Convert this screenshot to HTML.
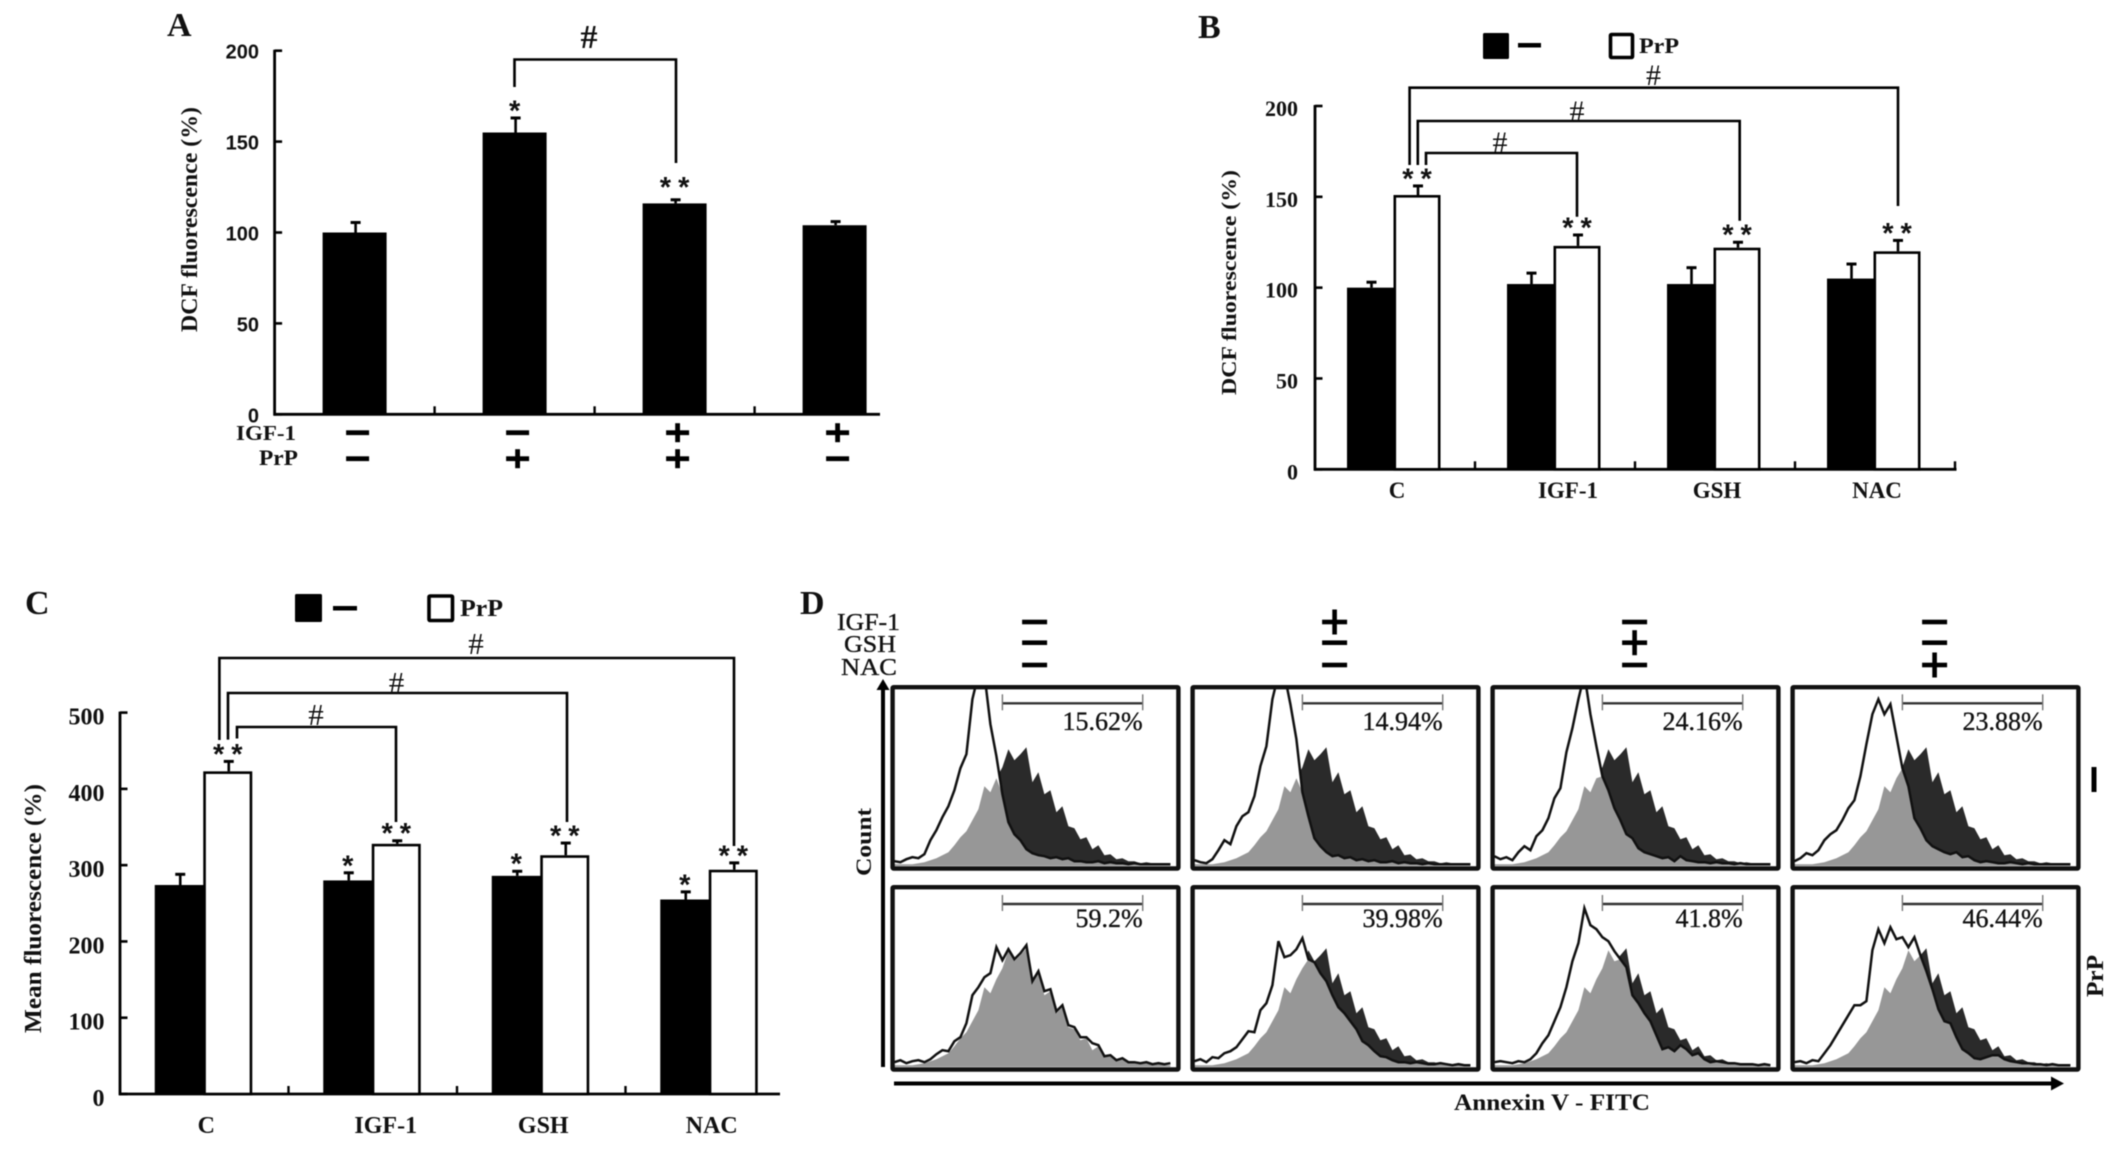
<!DOCTYPE html>
<html lang="en">
<head>
<meta charset="utf-8">
<title>DCF fluorescence, mean fluorescence and Annexin V panels</title>
<style>
html,body{margin:0;padding:0;background:#fff;}
body{width:2126px;height:1151px;overflow:hidden;}
svg#figure{display:block;filter:blur(0.6px);}
.serif{font-family:"Liberation Serif",serif;fill:#111;}
.bold{font-weight:bold;}
.heavy{stroke:#111;stroke-width:0.35px;}
.sans{font-family:"Liberation Sans",sans-serif;fill:#111;font-weight:bold;}
.line{fill:none;stroke:#000;stroke-width:2.6;}
</style>
</head>
<body>
<svg id="figure" xmlns="http://www.w3.org/2000/svg" width="2126" height="1151" viewBox="0 0 2126 1151">
  <rect x="0" y="0" width="2126" height="1151" fill="#fff"/>

  <g id="panel-a">
    <text class="serif bold" x="167" y="36" font-size="34">A</text>
    <text class="serif bold" transform="translate(197,219.5) rotate(-90)" text-anchor="middle" font-size="23" textLength="225" lengthAdjust="spacingAndGlyphs">DCF fluorescence (%)</text>
    <path class="line" d="M514.5 87V59.5H676V163"/>
    <text class="serif bold" x="589" y="48" text-anchor="middle" font-size="34">#</text>
    <text class="serif bold" x="296" y="440" text-anchor="end" font-size="21" textLength="60" lengthAdjust="spacingAndGlyphs">IGF-1</text>
    <text class="serif bold" x="298" y="465" text-anchor="end" font-size="22" textLength="39" lengthAdjust="spacingAndGlyphs">PrP</text>
  </g>

  <g id="panel-b">
    <text class="serif bold" x="1198" y="38" font-size="34">B</text>
    <rect x="1483" y="33" width="26" height="26" rx="1.5" fill="#000"/>
    <rect x="1518" y="43" width="23" height="4.5" fill="#000"/>
    <rect x="1610.5" y="34.5" width="22" height="23" rx="1" fill="#fff" stroke="#000" stroke-width="3.6"/>
    <text class="serif bold" x="1639" y="53" font-size="22" textLength="40" lengthAdjust="spacingAndGlyphs">PrP</text>
    <text class="serif bold" transform="translate(1236,282.5) rotate(-90)" text-anchor="middle" font-size="21" textLength="225" lengthAdjust="spacingAndGlyphs">DCF fluorescence (%)</text>
    <path class="line" d="M1409.6 165V87.7H1898V206"/>
    <path class="line" d="M1417.8 165V121H1739.7V220.7"/>
    <path class="line" d="M1426 165V153H1577V216.7"/>
    <text class="serif" x="1653.5" y="85" text-anchor="middle" font-size="30">#</text>
    <text class="serif" x="1577" y="121" text-anchor="middle" font-size="30">#</text>
    <text class="serif" x="1500" y="152" text-anchor="middle" font-size="30">#</text>
  </g>

  <g id="panel-c">
    <text class="serif bold" x="25" y="614" font-size="34">C</text>
    <rect x="295" y="594" width="27" height="28" rx="1.5" fill="#000"/>
    <rect x="333" y="606" width="24" height="4.5" fill="#000"/>
    <rect x="429" y="596" width="23.5" height="24.5" rx="1" fill="#fff" stroke="#000" stroke-width="3.6"/>
    <text class="serif bold" x="460" y="616" font-size="24" textLength="43" lengthAdjust="spacingAndGlyphs">PrP</text>
    <text class="serif bold" transform="translate(41,908.5) rotate(-90)" text-anchor="middle" font-size="24" textLength="249" lengthAdjust="spacingAndGlyphs">Mean fluorescence (%)</text>
    <path class="line" d="M219.4 740V658H734V846"/>
    <path class="line" d="M228 739.6V693H567V822"/>
    <path class="line" d="M237 738.5V727H396V822"/>
    <text class="serif" x="476" y="654" text-anchor="middle" font-size="31">#</text>
    <text class="serif" x="396.5" y="693" text-anchor="middle" font-size="31">#</text>
    <text class="serif" x="316" y="725" text-anchor="middle" font-size="31">#</text>
  </g>

  <g id="panel-d">
    <text class="serif bold" x="800" y="614" font-size="34">D</text>
    <text class="serif heavy" x="900" y="630" text-anchor="end" font-size="24" textLength="63" lengthAdjust="spacingAndGlyphs">IGF-1</text>
    <text class="serif heavy" x="896" y="652" text-anchor="end" font-size="24" textLength="52" lengthAdjust="spacingAndGlyphs">GSH</text>
    <text class="serif heavy" x="897" y="675" text-anchor="end" font-size="24" textLength="56" lengthAdjust="spacingAndGlyphs">NAC</text>
    <text class="serif bold" transform="translate(871,842) rotate(-90)" text-anchor="middle" font-size="22" textLength="68" lengthAdjust="spacingAndGlyphs">Count</text>
    <text class="serif bold" x="1552" y="1110" text-anchor="middle" font-size="23" textLength="196" lengthAdjust="spacingAndGlyphs">Annexin V - FITC</text>
    <path d="M883 1067V688" fill="none" stroke="#000" stroke-width="4"/>
    <path d="M876.5 690L883 679L889.5 690Z" fill="#000"/>
    <path d="M894 1083.5H2052" fill="none" stroke="#000" stroke-width="4"/>
    <path d="M2051 1076.5L2064 1083.5L2051 1090.5Z" fill="#000"/>
    <rect x="2091.5" y="767" width="5" height="25" fill="#000"/>
    <text class="serif bold" transform="translate(2103,976) rotate(-90)" text-anchor="middle" font-size="24" textLength="42" lengthAdjust="spacingAndGlyphs">PrP</text>
  </g>
</svg>

<script>
// ---------- Panel A data ----------
const aCategories = ['control', 'PrP', 'IGF-1 + PrP', 'IGF-1'];
const aValues = [100, 155, 116, 104];
const aErrors = [5.5, 8, 2, 2];
const aStars = ['', '*', '**', ''];
const aTicks = [0, 50, 100, 150, 200];
const aIgfSigns = ['-', '-', '+', '+'];
const aPrpSigns = ['-', '+', '+', '-'];

// ---------- Panel B data ----------
const bCategories = ['C', 'IGF-1', 'GSH', 'NAC'];
const bControl = [100, 102, 102, 105];
const bControlErrors = [3, 6, 9, 8];
const bControlStars = ['', '', '', ''];
const bPrP = [151, 123, 122, 120];
const bPrPErrors = [5, 6, 3, 6];
const bPrPStars = ['**', '**', '**', '**'];
const bTicks = [0, 50, 100, 150, 200];

// ---------- Panel C data ----------
const cCategories = ['C', 'IGF-1', 'GSH', 'NAC'];
const cControl = [274, 280, 286, 255];
const cControlErrors = [14, 10, 6, 10];
const cControlStars = ['', '*', '*', '*'];
const cPrP = [423, 328, 313, 294];
const cPrPErrors = [13, 4, 16, 9];
const cPrPStars = ['**', '**', '**', '**'];
const cTicks = [0, 100, 200, 300, 400, 500];

// ---------- Panel D data: histogram counts per bin ----------
const dControlHistogram = [0,0,0,0,1,2,4,6,9,12,19,27,33,44,55,78,72,86,97,115,104,110,117,82,92,70,74,52,58,38,36,25,27,15,19,9,10,5,6,3,3,1,2,1,1,0,0];
const dTreatedRow1Col1 = [3,2,5,7,6,10,24,34,47,58,74,96,110,165,190,190,140,108,70,42,30,24,15,11,9,8,6,7,5,6,3,3,2,2,3,1,2,1,1,0,1,0,0,0,0,0,0];
const dTreatedRow1Col2 = [4,2,1,5,14,24,20,38,48,52,68,98,118,165,190,190,160,125,72,48,26,18,12,8,9,6,7,4,5,3,4,2,2,3,1,2,1,1,0,1,0,0,0,0,0,0,0];
const dTreatedRow1Col3 = [8,5,7,4,12,18,14,28,34,46,66,76,112,136,165,190,150,118,88,74,56,44,30,26,16,12,10,8,6,7,3,8,4,3,2,2,1,2,1,1,0,1,0,0,0,0,0];
const dTreatedRow1Col4 = [3,6,11,9,14,24,30,34,44,56,64,88,120,150,165,150,160,128,96,78,46,36,24,18,15,12,10,12,7,8,4,2,3,2,1,1,2,1,0,1,0,0,0,0,0,0,0];
const dTreatedRow2Col1 = [3,5,2,4,5,3,6,11,15,14,24,28,42,70,78,88,92,118,105,116,106,112,120,84,94,74,76,54,60,40,38,28,28,22,20,9,10,5,7,3,3,2,3,1,2,1,2];
const dTreatedRow2Col2 = [4,6,3,8,7,12,14,18,26,34,33,55,62,80,124,108,110,116,127,106,103,92,84,70,58,52,44,36,24,20,14,9,8,5,3,3,2,3,2,1,1,2,1,0,1,0,0];
const dTreatedRow2Col3 = [3,4,3,2,4,3,6,12,22,30,44,58,78,104,122,157,140,136,128,124,114,106,98,70,62,52,44,30,16,18,14,20,16,10,12,6,3,4,3,2,2,1,1,1,0,1,0];
const dTreatedRow2Col4 = [3,4,2,5,4,12,20,30,40,50,60,60,64,115,136,122,138,126,128,118,128,110,94,76,56,44,42,28,16,12,7,6,8,10,10,6,4,3,2,2,1,1,0,1,0,0,0];
const dRow1Percents = ['15.62%', '14.94%', '24.16%', '23.88%'];
const dRow2Percents = ['59.2%', '39.98%', '41.8%', '46.44%'];
const dIgfSigns = ['-', '+', '-', '-'];
const dGshSigns = ['-', '-', '+', '-'];
const dNacSigns = ['-', '-', '-', '+'];

const SVG_NS = 'http://www.w3.org/2000/svg';

function svgEl(tag, attrs, parent) {
  const el = document.createElementNS(SVG_NS, tag);
  for (const key in attrs) el.setAttribute(key, attrs[key]);
  parent.appendChild(el);
  return el;
}

function drawSign(parent, cx, cy, sign, width, thick, plusHeight) {
  const bar = svgEl('rect', {x: cx - width / 2, y: cy - thick / 2, width: width, height: thick, fill: '#000'}, parent);
  
  
  if (sign === '+') {
    const stem = svgEl('rect', {x: cx - thick / 2, y: cy - plusHeight / 2, width: thick, height: plusHeight, fill: '#000'}, parent);
    
    
  }
}

function drawAxes(chart) {
  const g = chart.group;
  const yScale = chart.yScale;
  const yAxis = svgEl('line', {x1: chart.left, x2: chart.left, y1: yScale(chart.ticks[chart.ticks.length - 1]) - 1, y2: chart.base + 1.3, stroke: '#000', 'stroke-width': 2.8}, g);
  
  
  const xAxis = svgEl('line', {x1: chart.left - 1, x2: chart.right, y1: chart.base, y2: chart.base, stroke: '#000', 'stroke-width': 2.8}, g);
  
  
  chart.ticks.forEach(function (value) {
    const y = yScale(value);
    const tick = svgEl('line', {x1: chart.left, x2: chart.left + 7.5, y1: y, y2: y, stroke: '#000', 'stroke-width': 2.6}, g);
    
    
    const label = svgEl('text', {x: chart.labelRight, y: y + chart.labelDrop, 'text-anchor': 'end', 'font-size': chart.tickFont, 'class': chart.tickClass}, g);
    label.textContent = value;
    
    
  });
  for (let i = 1; i <= chart.categories.length; i++) {
    const x = chart.left + chart.band * i;
    if (x > chart.right + 1) continue;
    const tick = svgEl('line', {x1: x, x2: x, y1: chart.base, y2: chart.base - 8, stroke: '#000', 'stroke-width': 2.4}, g);
    
    
  }
}

function drawStar(chart, cx, errorTop, stars, size) {
  if (!stars) return;
  const isDouble = stars.length > 1;
  const gap = isDouble ? chart.starGap : 10;
  const star = svgEl('text', {x: cx + (isDouble ? 3.5 : 0), y: errorTop - gap + size * 0.43, 'text-anchor': 'middle', 'font-size': size, 'class': 'sans', 'letter-spacing': isDouble ? 7 : 0}, chart.group);
  star.textContent = stars;
  
  
}

function drawSeries(chart, values, errors, stars, offset, filled, seriesName) {
  const g = chart.group;
  const yScale = chart.yScale;
  const w = chart.barWidth;
  values.forEach(function (value, i) {
    const center = chart.left + chart.band * (i + 0.5) + offset;
    const y = yScale(value);
    const errorTop = yScale(value + errors[i]);
    const inset = filled ? 0 : 1.3;
    const bar = svgEl('rect', {
      x: center - w / 2 + inset,
      y: y + inset,
      width: w - inset * 2,
      height: chart.base - y - inset,
      fill: filled ? '#000' : '#fff',
      stroke: filled ? 'none' : '#000',
      'stroke-width': filled ? 0 : 2.6
    }, g);
    
    
    const stem = svgEl('line', {x1: center + 1, x2: center + 1, y1: y, y2: errorTop, stroke: '#000', 'stroke-width': 2.6}, g);
    
    
    const cap = svgEl('line', {x1: center - 4, x2: center + 6, y1: errorTop, y2: errorTop, stroke: '#000', 'stroke-width': 3}, g);
    
    
    drawStar(chart, center, errorTop, stars[i], 29);
  });
}

function drawCategoryLabels(chart, baseline) {
  chart.categories.forEach(function (name, i) {
    const nudge = name === 'IGF-1' ? 13 : 2;
    const label = svgEl('text', {x: chart.left + chart.band * (i + 0.5) + nudge, y: baseline, 'text-anchor': 'middle', 'font-size': chart.catFont, 'class': 'serif bold'}, chart.group);
    label.textContent = name;
    
    
  });
}

function makeChart(groupId, options, maxValue) {
  const chart = Object.assign({group: document.getElementById(groupId)}, options);
  const pxPerUnit = (options.base - options.top) / maxValue;
  chart.yScale = function (v) { return options.base - v * pxPerUnit; };
  return chart;
}

// Panel A
const chartA = makeChart('panel-a', {
  left: 274.6, right: 880, top: 50.7, base: 414.3, band: 160, barWidth: 64, starGap: 15,
  categories: aCategories, ticks: aTicks, labelRight: 259, labelDrop: 8,
  tickFont: 20, tickClass: 'sans', catFont: 22
}, aTicks[aTicks.length - 1]);
drawAxes(chartA);
drawSeries(chartA, aValues, aErrors, aStars, 0, true, 'dcf');
aCategories.forEach(function (_, i) {
  const cx = chartA.left + chartA.band * (i + 0.5) + 3;
  drawSign(chartA.group, cx, 432.7, aIgfSigns[i], 23, 4.8, 19);
  drawSign(chartA.group, cx, 458.7, aPrpSigns[i], 23, 4.8, 19);
});

// Panel B
const chartB = makeChart('panel-b', {
  left: 1315, right: 1956.5, top: 106, base: 469.3, band: 160, barWidth: 47, starGap: 10,
  categories: bCategories, ticks: bTicks, labelRight: 1298, labelDrop: 10,
  tickFont: 22, tickClass: 'serif bold', catFont: 23
}, bTicks[bTicks.length - 1]);
drawAxes(chartB);
drawSeries(chartB, bControl, bControlErrors, bControlStars, -24.5, true, 'control');
drawSeries(chartB, bPrP, bPrPErrors, bPrPStars, 22, false, 'prp');
drawCategoryLabels(chartB, 498);

// Panel C
const chartC = makeChart('panel-c', {
  left: 120, right: 780, top: 712.6, base: 1094, band: 168.5, barWidth: 49, starGap: 10,
  categories: cCategories, ticks: cTicks, labelRight: 104.5, labelDrop: 12,
  tickFont: 24, tickClass: 'serif bold', catFont: 24
}, cTicks[cTicks.length - 1]);
drawAxes(chartC);
drawSeries(chartC, cControl, cControlErrors, cControlStars, -25, true, 'control');
drawSeries(chartC, cPrP, cPrPErrors, cPrPStars, 23.5, false, 'prp');
drawCategoryLabels(chartC, 1133);

// Panel D
const panelD = document.getElementById('panel-d');
const dHistRows = [
  [dTreatedRow1Col1, dTreatedRow1Col2, dTreatedRow1Col3, dTreatedRow1Col4],
  [dTreatedRow2Col1, dTreatedRow2Col2, dTreatedRow2Col3, dTreatedRow2Col4]
];
const dPercentRows = [dRow1Percents, dRow2Percents];
const D_ROW_TOPS = [685, 885];
const D_ROW_HEIGHTS = [185.7, 186.7];
const D_GATE_Y = [703.3, 904];
const D_TEXT_Y = [730, 927];
const D_COL_LEFT = 890.4;
const D_COL_STEP = 300;
const D_BOX_W = 290.2;
const D_BIN_PX = 6;

function binX(i) { return i * D_BIN_PX; }

function areaPoints(values, height) {
  const pts = ['0,' + height];
  values.forEach(function (v, i) { pts.push(binX(i) + ',' + (height - 1.5 - v)); });
  pts.push(binX(values.length - 1) + ',' + height);
  return pts.join(' ');
}

function linePoints(values, height) {
  return values.map(function (v, i) { return binX(i) + ',' + (height - 1.5 - v); }).join(' ');
}

dHistRows.forEach(function (row, r) {
  row.forEach(function (treated, c) {
    const bx = D_COL_LEFT + D_COL_STEP * c;
    const by = D_ROW_TOPS[r];
    const bh = D_ROW_HEIGHTS[r];
    const innerH = bh - 5;
    const plot = svgEl('svg', {x: bx + 4, y: by + 4, width: D_BOX_W - 8, height: innerH - 4, viewBox: '0 0 ' + (D_BOX_W - 8) + ' ' + (innerH - 4)}, panelD);
    
    
    const h = innerH - 4;
    const dark = svgEl('polygon', {points: areaPoints(dControlHistogram, h), fill: '#2a2a2a'}, plot);
    
    
    const whiteFill = svgEl('polygon', {points: areaPoints(treated, h), fill: '#fff'}, plot);
    
    
    const overlapValues = treated.map(function (v, i) { return Math.min(v, dControlHistogram[i]); });
    const overlap = svgEl('polygon', {points: areaPoints(overlapValues, h), fill: '#979797'}, plot);
    
    
    const outline = svgEl('polyline', {points: linePoints(treated, h), fill: 'none', stroke: '#111', 'stroke-width': 2.5}, plot);
    
    

    const box = svgEl('rect', {x: bx + 2.2, y: by + 2.2, width: D_BOX_W - 4.4, height: bh - 4.4, rx: 1, fill: 'none', stroke: '#111', 'stroke-width': 4.4}, panelD);
    
    

    const gateY = D_GATE_Y[r];
    const gate = svgEl('line', {x1: bx + 112, x2: bx + 252.3, y1: gateY, y2: gateY, stroke: '#333', 'stroke-width': 2.4}, panelD);
    
    
    [112, 252.3].forEach(function (dx) {
      const end = svgEl('line', {x1: bx + dx, x2: bx + dx, y1: gateY - 9, y2: gateY + 7, stroke: '#777', 'stroke-width': 1.4}, panelD);
      
      
    });
    const pct = svgEl('text', {x: bx + 252.3, y: D_TEXT_Y[r], 'text-anchor': 'end', 'font-size': 26, 'class': 'serif heavy'}, panelD);
    pct.textContent = dPercentRows[r][c];
    
    
  });
});

[dIgfSigns, dGshSigns, dNacSigns].forEach(function (signs, s) {
  signs.forEach(function (sign, c) {
    drawSign(panelD, 1034.6 + D_COL_STEP * c, [622, 642.7, 665][s], sign, 25, 4.6, 25);
  });
});
</script>
</body>
</html>
